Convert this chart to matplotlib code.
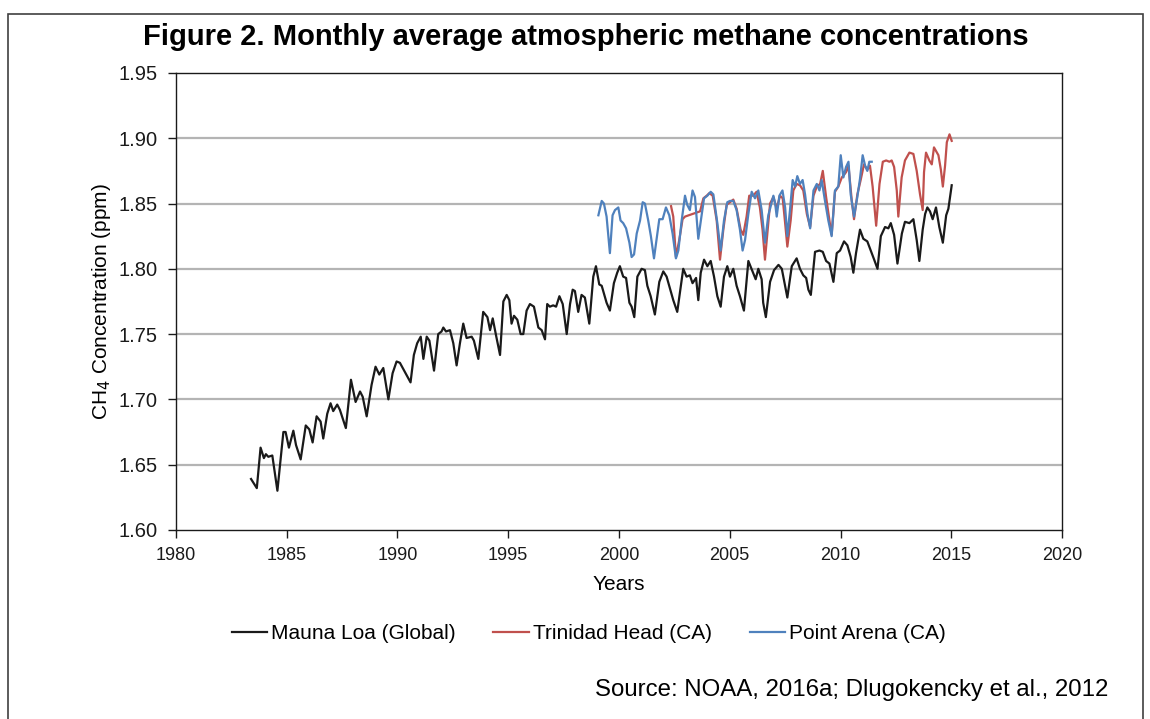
import matplotlib
matplotlib.use("Agg")
import matplotlib.pyplot as plt
from matplotlib.patches import Rectangle

plt.rcParams['font.family'] = ['Liberation Sans', 'DejaVu Sans']

# values (year, ppm)
mauna_loa_years = [
    1983.39, 1983.65, 1983.82, 1983.97, 1984.06, 1984.17, 1984.35, 1984.58, 1984.85, 1984.95,
    1985.10, 1985.30, 1985.42, 1985.63, 1985.86, 1986.02, 1986.17, 1986.35, 1986.53, 1986.65,
    1986.83, 1986.98, 1987.10, 1987.28, 1987.40, 1987.67, 1987.90, 1988.11, 1988.31, 1988.43,
    1988.61, 1988.83, 1989.01, 1989.18, 1989.36, 1989.59, 1989.78, 1989.96, 1990.11, 1990.59,
    1990.74, 1990.89, 1991.05, 1991.17, 1991.32, 1991.44, 1991.65, 1991.84, 1991.99, 1992.07,
    1992.19, 1992.37, 1992.52, 1992.67, 1992.82, 1992.97, 1993.12, 1993.35, 1993.45, 1993.65,
    1993.87, 1994.06, 1994.18, 1994.30, 1994.45, 1994.63, 1994.78, 1994.93, 1995.05, 1995.15,
    1995.26, 1995.41, 1995.56, 1995.68, 1995.83, 1995.98, 1996.16, 1996.36, 1996.51, 1996.66,
    1996.76, 1996.88, 1997.03, 1997.16, 1997.31, 1997.46, 1997.64, 1997.79, 1997.91, 1998.01,
    1998.16, 1998.31, 1998.46, 1998.66, 1998.84, 1998.96, 1999.11, 1999.22, 1999.44, 1999.59,
    1999.77, 1999.92, 2000.04, 2000.19, 2000.32, 2000.47, 2000.57, 2000.69, 2000.83, 2001.02,
    2001.17, 2001.28, 2001.43, 2001.62, 2001.82, 2002.00, 2002.15, 2002.30, 2002.45, 2002.63,
    2002.90, 2003.05, 2003.20, 2003.32, 2003.48, 2003.58, 2003.69, 2003.84, 2003.99, 2004.14,
    2004.29, 2004.44, 2004.59, 2004.74, 2004.89, 2005.01, 2005.16, 2005.31, 2005.46, 2005.64,
    2005.84, 2006.03, 2006.17, 2006.29, 2006.44, 2006.51, 2006.63, 2006.82, 2007.00, 2007.20,
    2007.35, 2007.50, 2007.60, 2007.80, 2008.02, 2008.17, 2008.32, 2008.45, 2008.55, 2008.66,
    2008.85, 2009.05, 2009.20, 2009.35, 2009.50, 2009.68, 2009.83, 2009.98, 2010.16, 2010.31,
    2010.46, 2010.58, 2010.70, 2010.88, 2011.03, 2011.21, 2011.41, 2011.52, 2011.67, 2011.82,
    2012.01, 2012.16, 2012.27, 2012.42, 2012.57, 2012.77, 2012.91, 2013.11, 2013.29, 2013.44,
    2013.56, 2013.71, 2013.82, 2013.92, 2014.04, 2014.16, 2014.31, 2014.46, 2014.62, 2014.77,
    2014.87, 2015.02]
mauna_loa_ch4 = [
    1.639, 1.632, 1.663, 1.655, 1.658, 1.656, 1.657, 1.630, 1.675, 1.675,
    1.663, 1.676, 1.665, 1.654, 1.680, 1.677, 1.667, 1.687, 1.683, 1.670,
    1.689, 1.697, 1.691, 1.696, 1.692, 1.678, 1.715, 1.698, 1.706, 1.702,
    1.687, 1.711, 1.725, 1.719, 1.724, 1.700, 1.720, 1.729, 1.728, 1.713,
    1.734, 1.743, 1.748, 1.731, 1.748, 1.745, 1.722, 1.750, 1.752, 1.755,
    1.752, 1.753, 1.743, 1.726, 1.743, 1.758, 1.747, 1.748, 1.745, 1.731,
    1.767, 1.763, 1.753, 1.762, 1.749, 1.734, 1.775, 1.780, 1.776, 1.758,
    1.764, 1.761, 1.750, 1.750, 1.768, 1.773, 1.771, 1.755, 1.753, 1.746,
    1.773, 1.771, 1.772, 1.771, 1.779, 1.773, 1.750, 1.773, 1.784, 1.783,
    1.767, 1.780, 1.778, 1.758, 1.794, 1.802, 1.788, 1.787, 1.774, 1.768,
    1.789, 1.797, 1.802, 1.794, 1.793, 1.774, 1.771, 1.763, 1.794, 1.800,
    1.799, 1.787, 1.779, 1.765, 1.790, 1.798, 1.794, 1.785, 1.776, 1.767,
    1.800, 1.794, 1.795, 1.789, 1.793, 1.776, 1.797, 1.807, 1.802, 1.806,
    1.794, 1.779, 1.771, 1.794, 1.802, 1.794, 1.800, 1.787, 1.779, 1.768,
    1.806, 1.798, 1.792, 1.800, 1.792, 1.774, 1.763, 1.790, 1.799, 1.803,
    1.800, 1.787, 1.778, 1.802, 1.808, 1.800, 1.795, 1.793, 1.784, 1.780,
    1.813, 1.814, 1.813, 1.806, 1.804, 1.790, 1.812, 1.814, 1.821, 1.818,
    1.809, 1.797, 1.812, 1.830, 1.823, 1.821, 1.812, 1.807, 1.800, 1.825,
    1.832, 1.831, 1.835, 1.826, 1.804, 1.827, 1.836, 1.835, 1.838, 1.822,
    1.806, 1.830, 1.842, 1.847, 1.844, 1.838, 1.847, 1.832, 1.820, 1.841,
    1.846, 1.864]

trinidad_years = [
    2002.35, 2002.45, 2002.57, 2002.72, 2002.87, 2002.98, 2003.66, 2003.81, 2003.96, 2004.08,
    2004.23, 2004.41, 2004.56, 2004.71, 2004.86, 2005.01, 2005.16, 2005.31, 2005.49, 2005.61,
    2005.76, 2005.88, 2006.06, 2006.21, 2006.36, 2006.48, 2006.59, 2006.74, 2006.82, 2006.97,
    2007.12, 2007.27, 2007.39, 2007.50, 2007.60, 2007.75, 2007.87, 2008.02, 2008.17, 2008.32,
    2008.48, 2008.63, 2008.78, 2008.93, 2009.08, 2009.20, 2009.35, 2009.50, 2009.60, 2009.75,
    2009.90, 2010.06, 2010.25, 2010.36, 2010.51, 2010.61, 2010.76, 2010.91, 2011.06, 2011.21,
    2011.33, 2011.45, 2011.61, 2011.76, 2011.91, 2012.06, 2012.21, 2012.31, 2012.42, 2012.54,
    2012.61, 2012.76, 2012.91, 2013.11, 2013.29, 2013.44, 2013.59, 2013.71, 2013.77, 2013.86,
    2014.01, 2014.12, 2014.22, 2014.42, 2014.53, 2014.62, 2014.72, 2014.80, 2014.92, 2015.02]
trinidad_ch4 = [
    1.848, 1.840, 1.809, 1.822, 1.838, 1.840, 1.844, 1.854, 1.856, 1.858,
    1.856, 1.837, 1.807, 1.830, 1.849, 1.851, 1.853, 1.846, 1.830, 1.826,
    1.840, 1.856, 1.856, 1.859, 1.847, 1.830, 1.807, 1.835, 1.850, 1.855,
    1.846, 1.856, 1.854, 1.835, 1.817, 1.837, 1.860, 1.865, 1.864, 1.860,
    1.842, 1.832, 1.856, 1.863, 1.865, 1.875, 1.855, 1.837, 1.826, 1.859,
    1.863, 1.870, 1.874, 1.879, 1.852, 1.838, 1.857, 1.868, 1.880, 1.876,
    1.879, 1.863, 1.833, 1.865, 1.882, 1.883, 1.882, 1.883, 1.878, 1.860,
    1.840, 1.870, 1.883, 1.889, 1.888, 1.875, 1.857, 1.845, 1.874, 1.889,
    1.883, 1.880, 1.893, 1.887, 1.876, 1.863, 1.879, 1.897, 1.903, 1.898]

point_arena_years = [
    1999.07, 1999.22, 1999.32, 1999.44, 1999.59, 1999.71, 1999.82, 1999.97, 2000.07, 2000.19,
    2000.32, 2000.47, 2000.57, 2000.68, 2000.80, 2000.95, 2001.07, 2001.17, 2001.32, 2001.44,
    2001.58, 2001.70, 2001.82, 2001.97, 2002.12, 2002.27, 2002.42, 2002.57, 2002.68, 2002.83,
    2002.98, 2003.08, 2003.20, 2003.32, 2003.43, 2003.58, 2003.73, 2003.84, 2003.99, 2004.14,
    2004.26, 2004.44, 2004.59, 2004.74, 2004.89, 2005.01, 2005.16, 2005.31, 2005.46, 2005.58,
    2005.69, 2005.84, 2005.99, 2006.14, 2006.29, 2006.44, 2006.59, 2006.74, 2006.82, 2006.97,
    2007.05, 2007.12, 2007.24, 2007.38, 2007.50, 2007.60, 2007.72, 2007.84, 2007.95, 2008.05,
    2008.17, 2008.29, 2008.40, 2008.51, 2008.63, 2008.78, 2008.93, 2009.05, 2009.15, 2009.30,
    2009.45, 2009.60, 2009.75, 2009.90, 2010.01, 2010.13, 2010.25, 2010.36, 2010.46, 2010.61,
    2010.76, 2010.88, 2011.00, 2011.11, 2011.21, 2011.30, 2011.41]
point_arena_ch4 = [
    1.841, 1.852, 1.850, 1.840, 1.812, 1.841, 1.845, 1.847, 1.837, 1.835,
    1.831, 1.820, 1.809, 1.811, 1.827, 1.837, 1.851, 1.850, 1.837, 1.825,
    1.808, 1.823, 1.838, 1.838, 1.847, 1.841, 1.827, 1.808, 1.814, 1.837,
    1.856, 1.849, 1.845, 1.860, 1.855, 1.823, 1.841, 1.854, 1.856, 1.859,
    1.857, 1.835, 1.814, 1.837, 1.851, 1.852, 1.852, 1.845, 1.830, 1.814,
    1.822, 1.842, 1.859, 1.854, 1.860, 1.845, 1.820, 1.841, 1.846, 1.856,
    1.850, 1.840, 1.856, 1.860, 1.847, 1.825, 1.845, 1.868, 1.863, 1.871,
    1.865, 1.868, 1.857, 1.842, 1.831, 1.860, 1.865, 1.860, 1.868, 1.852,
    1.837, 1.825, 1.860, 1.863, 1.887, 1.870, 1.878, 1.882, 1.857, 1.840,
    1.855, 1.869, 1.887, 1.879, 1.875, 1.882, 1.882]

x_ticks = [1980, 1985, 1990, 1995, 2000, 2005, 2010, 2015, 2020]
y_ticks = [1.60, 1.65, 1.70, 1.75, 1.80, 1.85, 1.90, 1.95]

fig = plt.figure(figsize=(11.5, 7.19), dpi=100)
ax = fig.add_axes([0.153, 0.263, 0.7705, 0.6355])

for y in y_ticks[1:-1]:
    ax.axhline(y, color='#b4b4b4', lw=1.6, zorder=0)

ax.plot(mauna_loa_years, mauna_loa_ch4, color='#1a1a1a', lw=1.6, label='Mauna Loa (Global)')
ax.plot(trinidad_years, trinidad_ch4, color='#c0504d', lw=1.6, label='Trinidad Head (CA)')
ax.plot(point_arena_years, point_arena_ch4, color='#4f81bd', lw=1.6, label='Point Arena (CA)')

ax.set_xlim(1980, 2020)
ax.set_ylim(1.60, 1.95)
ax.set_xticks(x_ticks)
ax.set_yticks(y_ticks)
ax.set_yticklabels(["%.2f" % v for v in y_ticks])
ax.tick_params(axis='both', direction='out', length=6, width=1, colors='#1a1a1a')
ax.tick_params(axis='x', labelsize=13, pad=6)
ax.tick_params(axis='y', labelsize=14.5, pad=7)
for s in ax.spines.values():
    s.set_color('#1a1a1a')
    s.set_linewidth(1)

ax.set_xlabel("Years", fontsize=15, labelpad=8)
ax.set_ylabel("CH$_4$ Concentration (ppm)", fontsize=15, labelpad=4)

fig.text(0.509, 0.948, "Figure 2. Monthly average atmospheric methane concentrations",
         ha='center', va='center', fontsize=21, fontweight='bold')

leg = fig.legend(loc='center', bbox_to_anchor=(0.512, 0.119), ncol=3, frameon=False,
                 fontsize=15, handlelength=1.7, handletextpad=0.2, columnspacing=1.8)

fig.text(0.964, 0.04, "Source: NOAA, 2016a; Dlugokencky et al., 2012",
         ha='right', va='center', fontsize=17.3)

fig.patches.append(Rectangle((8 / 1150, -0.05), 1135 / 1150, 1.05 - 14 / 719,
                             transform=fig.transFigure, fill=False,
                             edgecolor='#404040', lw=1.2))

plt.savefig("out.png", dpi=100)
